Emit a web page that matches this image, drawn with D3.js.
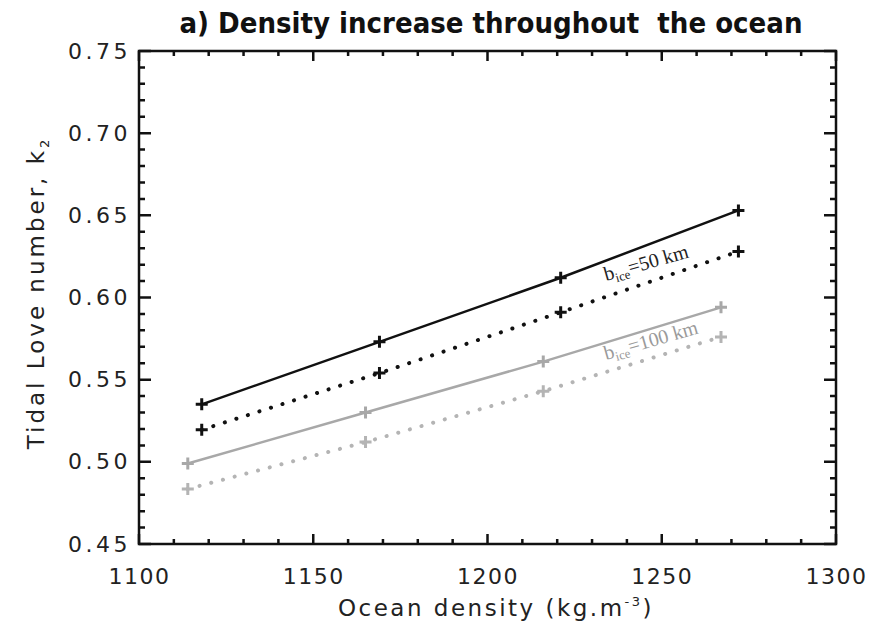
<!DOCTYPE html>
<html>
<head>
<meta charset="utf-8">
<script src="https://cdn.jsdelivr.net/npm/d3@7"></script>
<style>
  body { margin: 0; background: #fff; }
  svg { display: block; }
</style>
</head>
<body>
<div id="wrapper"></div>
<script>
// values
const densityThin = [1118, 1169, 1221, 1272];   // b_ice = 50 km
const densityThick = [1114, 1165, 1216, 1267];  // b_ice = 100 km
const k2Thin = [0.535, 0.573, 0.612, 0.653];
const k2ThinDotted = [0.5195, 0.554, 0.591, 0.628];
const k2Thick = [0.499, 0.530, 0.561, 0.594];
const k2ThickDotted = [0.4835, 0.512, 0.543, 0.576];
const xTicks = [1100, 1150, 1200, 1250, 1300];
const yTicks = [0.45, 0.50, 0.55, 0.60, 0.65, 0.70, 0.75];
const xMinor = d3.range(1110, 1300, 10).filter(v => v % 50 !== 0);
const yMinor = d3.range(1, 30).filter(i => i % 5 !== 0).map(i => +(0.45 + i * 0.01).toFixed(2));

const series = [
  {x: densityThin, y: k2Thin, color: "#111", dotted: false},
  {x: densityThin, y: k2ThinDotted, color: "#111", dotted: true},
  {x: densityThick, y: k2Thick, color: "#a8a8a8", dotted: false},
  {x: densityThick, y: k2ThickDotted, color: "#b4b4b4", dotted: true}
];

let dimensions = {
  width: 886,
  height: 631,
  margin: {top: 51, left: 139, bottom: 87, right: 50}
};
dimensions.boundedWidth = dimensions.width - dimensions.margin.left - dimensions.margin.right;
dimensions.boundedHeight = dimensions.height - dimensions.margin.top - dimensions.margin.bottom;
const W = dimensions.boundedWidth, H = dimensions.boundedHeight;

const svg = d3.select("#wrapper").append("svg")
  .attr("width", dimensions.width)
  .attr("height", dimensions.height);

const g = svg.append("g")
  .attr("transform", `translate(${dimensions.margin.left},${dimensions.margin.top})`);

const xScale = d3.scaleLinear().domain([1100, 1300]).range([0, W]);
const yScale = d3.scaleLinear().domain([0.45, 0.75]).range([H, 0]);

const tickFont = "'DejaVu Sans', sans-serif";

// inward ticks on all four sides, drawn as one path
const xTickData = xMinor.map(v => ({v, len: 5})).concat(xTicks.map(v => ({v, len: 10})));
const yTickData = yMinor.map(v => ({v, len: 6})).concat(yTicks.map(v => ({v, len: 12})));
const tickPath = d3.path();
xTickData.forEach(d => {
  const x = xScale(d.v);
  tickPath.moveTo(x, H); tickPath.lineTo(x, H - d.len);
  tickPath.moveTo(x, 0); tickPath.lineTo(x, d.len);
});
yTickData.forEach(d => {
  const y = yScale(d.v);
  tickPath.moveTo(0, y); tickPath.lineTo(d.len, y);
  tickPath.moveTo(W, y); tickPath.lineTo(W - d.len, y);
});

// tick labels through d3 axes
const labelStyle = (sel, spacing) => {
  sel.select(".domain").remove();
  sel.selectAll(".tick line").remove();
  sel.selectAll("text").attr("font-family", tickFont).attr("font-size", 22)
    .attr("letter-spacing", spacing).attr("fill", "#222");
};
g.append("g").attr("transform", `translate(0,${H})`)
  .call(d3.axisBottom(xScale).tickValues(xTicks).tickSize(0).tickPadding(24).tickFormat(d3.format("d")))
  .call(labelStyle, 1.5);
g.append("g")
  .call(d3.axisLeft(yScale).tickValues(yTicks).tickSize(0).tickPadding(8).tickFormat(d3.format(".2f")))
  .call(labelStyle, 3.5);

g.append("rect")
  .attr("width", W)
  .attr("height", H)
  .attr("fill", "none")
  .attr("stroke", "#111")
  .attr("stroke-width", 2.5);

g.append("path")
  .attr("d", tickPath.toString())
  .attr("fill", "none")
  .attr("stroke", "#111")
  .attr("stroke-width", 2.5);

// lines and plus markers
const line = d3.line().x(d => xScale(d[0])).y(d => yScale(d[1]));
series.forEach(s => {
  const pts = s.x.map((x, i) => [x, s.y[i]]);
  g.append("path")
    .datum(pts)
    .attr("d", line)
    .attr("fill", "none")
    .attr("stroke", s.color)
    .attr("stroke-width", s.dotted ? 4 : 2.5)
    .attr("stroke-linecap", s.dotted ? "round" : "butt")
    .attr("stroke-dasharray", s.dotted ? "0.1,12" : null);
  g.selectAll(null)
    .data(pts)
    .enter()
    .append("path")
    .attr("transform", d => `translate(${xScale(d[0])},${yScale(d[1])})`)
    .attr("d", "M-6,0H6M0,-6V6")
    .attr("stroke", s.color)
    .attr("stroke-width", 3);
});

// in-plot labels
const angle = -16;
const labels = [
  {x: 1234, y: 0.610, val: "50 km", color: "#222"},
  {x: 1234, y: 0.562, val: "100 km", color: "#9a9a9a"}
];
labels.forEach(l => {
  const t = g.append("text")
    .attr("transform", `translate(${xScale(l.x)},${yScale(l.y)}) rotate(${angle})`)
    .attr("font-family", "'Liberation Serif', serif")
    .attr("font-size", 20)
    .attr("fill", l.color);
  t.append("tspan").text("b");
  t.append("tspan").attr("font-size", 13).attr("dy", 4).text("ice");
  t.append("tspan").attr("dy", -4).text("=" + l.val);
});

// title and axis titles
svg.append("text")
  .attr("x", 491)
  .attr("y", 33)
  .attr("text-anchor", "middle")
  .attr("font-family", "'DejaVu Sans Condensed', 'DejaVu Sans', sans-serif")
  .attr("font-weight", "bold")
  .attr("font-size", 29)
  .attr("fill", "#111")
  .style("white-space", "pre")
  .text("a) Density increase throughout  the ocean");

const xTitle = svg.append("text")
  .attr("x", 496)
  .attr("y", 616)
  .attr("text-anchor", "middle")
  .attr("font-family", tickFont)
  .attr("font-size", 23)
  .attr("letter-spacing", 2.5)
  .attr("fill", "#222");
xTitle.append("tspan").text("Ocean density (kg.m");
xTitle.append("tspan").attr("font-size", 13).attr("dy", -10).text("-3");
xTitle.append("tspan").attr("dy", 10).text(")");

const yTitle = svg.append("text")
  .attr("transform", `translate(44,293) rotate(-90)`)
  .attr("text-anchor", "middle")
  .attr("font-family", tickFont)
  .attr("font-size", 23)
  .attr("letter-spacing", 3)
  .attr("fill", "#222");
yTitle.append("tspan").text("Tidal Love number, k");
yTitle.append("tspan").attr("font-size", 13).attr("dy", 5).text("2");
</script>
</body>
</html>
